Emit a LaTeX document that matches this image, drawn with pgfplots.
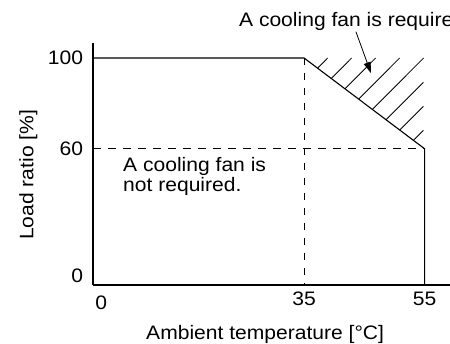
\documentclass[border=0pt]{standalone}
\usepackage{pgfplots}
\pgfplotsset{compat=1.18}
\usepackage{fontspec}
\setmainfont{Liberation Sans}[FakeStretch=1.08]
\usetikzlibrary{arrows.meta}
\newcommand\lbl{\fontsize{19.5}{20}\selectfont}
\begin{document}
\begin{tikzpicture}[x=1pt,y=1pt]
\useasboundingbox (0,0) rectangle (450,344);
\begin{axis}[
  at={(93pt,59pt)}, anchor=origin,
  x=6.03pt, y=2.27pt,
  xmin=0, xmax=59.5, ymin=0, ymax=106.6,
  axis x line=bottom, axis y line=left,
  axis line style={-, line width=1.1pt, black},
  major tick length=0pt,
  xtick={1.38,35,55}, xticklabels={\raisebox{-4pt}{0},35,55},
  ytick={4,60,100}, yticklabels={0,60,100},
  xticklabel style={font=\lbl, anchor=base, inner sep=0pt, yshift=-21pt},
  yticklabel style={font=\lbl, anchor=east, inner sep=0pt, xshift=-9.7pt},
  /pgf/number format/assume math mode=true,
  clip=false,
]
% main boundary
\addplot[black, line width=1.1pt] coordinates {(0,100) (35,100) (55,60) (55,0)};
% dashed guides
\addplot[black, line width=0.9pt, dash pattern=on 7.5pt off 7.5pt] coordinates {(0,60) (55,60)};
\addplot[black, line width=0.9pt, dash pattern=on 7.5pt off 7.5pt] coordinates {(35,100) (35,0)};
% hatching
\addplot[black, line width=0.8pt] coordinates {(37.24,95.52) (38.92,100)};
\addplot[black, line width=0.8pt] coordinates {(39.51,90.98) (42.90,100)};
\addplot[black, line width=0.8pt] coordinates {(41.78,86.44) (46.88,100)};
\addplot[black, line width=0.8pt] coordinates {(44.05,81.90) (50.86,100)};
\addplot[black, line width=0.8pt] coordinates {(46.32,77.36) (54.84,100)};
\addplot[black, line width=0.8pt] coordinates {(48.59,72.82) (54.8,89.3)};
\addplot[black, line width=0.8pt] coordinates {(50.86,68.28) (54.8,78.7)};
\addplot[black, line width=0.8pt] coordinates {(53.13,63.74) (54.8,68.15)};
% annotations
\draw[-{Triangle[length=11pt,width=7pt]}, line width=0.8pt] (axis cs:43.6,111.6) -- (axis cs:46.1,93.3);
\node[anchor=base west, inner sep=0pt, font=\lbl] at (axis cs:24.2,113.8) {A cooling fan is required.};
\node[anchor=base west, inner sep=0pt, font=\lbl] at (axis cs:4.98,49.9) {A cooling fan is};
\node[anchor=base west, inner sep=0pt, font=\lbl] at (axis cs:4.98,41.1) {not required.};
\node[anchor=base west, inner sep=0pt, font=\lbl] at (axis cs:8.79,-24.2) {Ambient temperature [°C]};
\node[anchor=base west, inner sep=0pt, font=\lbl, rotate=90] at (axis cs:-9.9,19.8) {Load ratio [\%]};
\end{axis}
\end{tikzpicture}
\end{document}
